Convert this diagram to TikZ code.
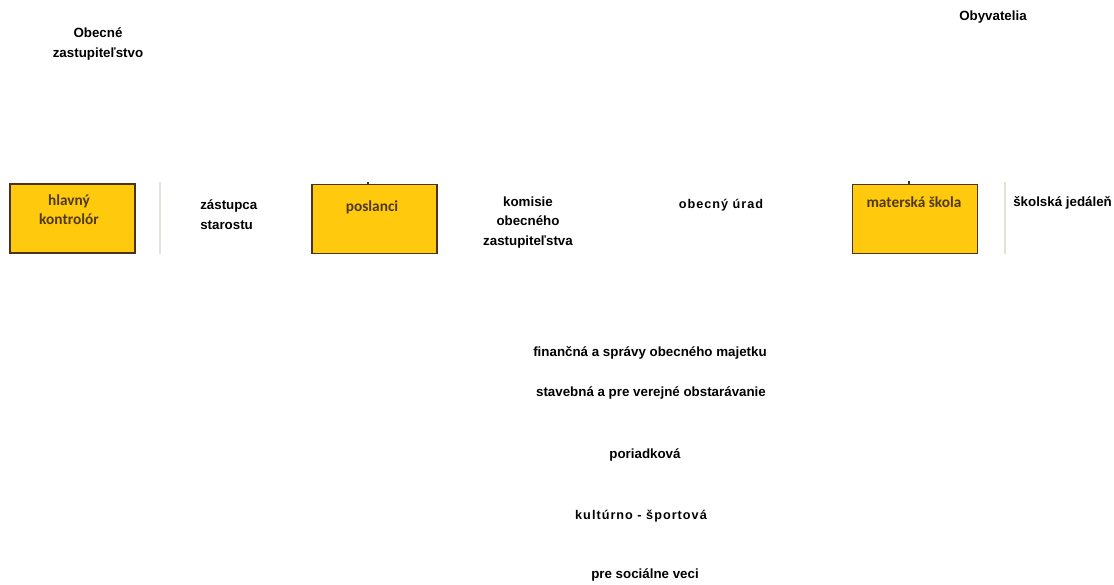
\documentclass[tikz,border=0pt]{standalone}
\usepackage{fontspec}
\setmainfont{Liberation Sans}
\newfontfamily\boxfont{Carlito}
\newfontfamily\spacedfont[LetterSpace=8]{Liberation Sans}
\definecolor{boxfill}{HTML}{FFC90E}
\definecolor{boxline}{HTML}{4A3418}
\definecolor{boxtext}{HTML}{4F3A16}
\definecolor{rulegrey}{HTML}{E4E1D8}
\tikzset{
  unit/.style={draw=boxline,line width=1.2pt,fill=boxfill,minimum width=93.75pt,minimum height=51.75pt,
    inner sep=0pt},
  unittext/.style={text=boxtext,font=\boxfont\bfseries\fontsize{11.5}{14}\selectfont,align=center,inner sep=0pt},
  label/.style={font=\bfseries\fontsize{10}{14.6}\selectfont,align=center,inner sep=0pt},
  spaced/.style={font=\spacedfont\bfseries\fontsize{9.5}{11}\selectfont,inner sep=0pt},
}
\begin{document}
\begin{tikzpicture}[x=0.75pt,y=-0.75pt]
\useasboundingbox (0,0) rectangle (1114,585);
% top level
\draw (98,44) node[label](zast) {Obecn\'e\\zastupite\v{l}stvo};
\draw (993,17) node[label](obyv) {Obyvatelia};
% boxes
\draw (72.5,218.5) node[unit](kontrolor) {};
\draw (374.5,219) node[unit](poslanci) {};
\draw (915,219) node[unit](skola) {};
\draw (69,210) node[unittext](kontrolortxt) {hlavn\'y\\kontrol\'or};
\draw (372,207) node[unittext](poslancitxt) {poslanci};
\draw (914,202) node[unittext](skolatxt) {matersk\'a \v{s}kola};
\coordinate (ptick) at (368,182);
\coordinate (stick) at (909,181);
\draw[boxline,line width=0.8pt] (ptick) -- (ptick |- poslanci.north);
\draw[boxline,line width=0.8pt] (stick) -- (stick |- skola.north);
% light rules
\coordinate (r1t) at (160,182);
\coordinate (r1b) at (160,254);
\coordinate (r2t) at (1005,182);
\coordinate (r2b) at (1005,254);
\draw[rulegrey,line width=1pt] (r1t) -- (r1b);
\draw[rulegrey,line width=1pt] (r2t) -- (r2b);
% middle row
\draw (200,214.5) node[label,anchor=west,align=left](zastupca) {z\'astupca\\starostu};
\draw (528,222.5) node[label](komisie) {komisie\\obecn\'eho\\zastupite\v{l}stva};
\draw (721,205) node[spaced](urad) {obecn\'y \'urad};
\draw (1013,203) node[label,anchor=west](jedalen) {\v{s}kolsk\'a jed\'ale\v{n}};
% committees
\draw (650,353) node[label](financna) {finan\v{c}n\'a a spr\'avy obecn\'eho majetku};
\draw (651,393) node[label](stavebna) {stavebn\'a a pre verejn\'e obstar\'avanie};
\draw (645,455) node[label](poriadkova) {poriadkov\'a};
\draw (641,516) node[spaced](kulturna) {kult\'urno - \v{s}portov\'a};
\draw (645,575) node[label](socialna) {pre soci\'alne veci};
\end{tikzpicture}
\end{document}
